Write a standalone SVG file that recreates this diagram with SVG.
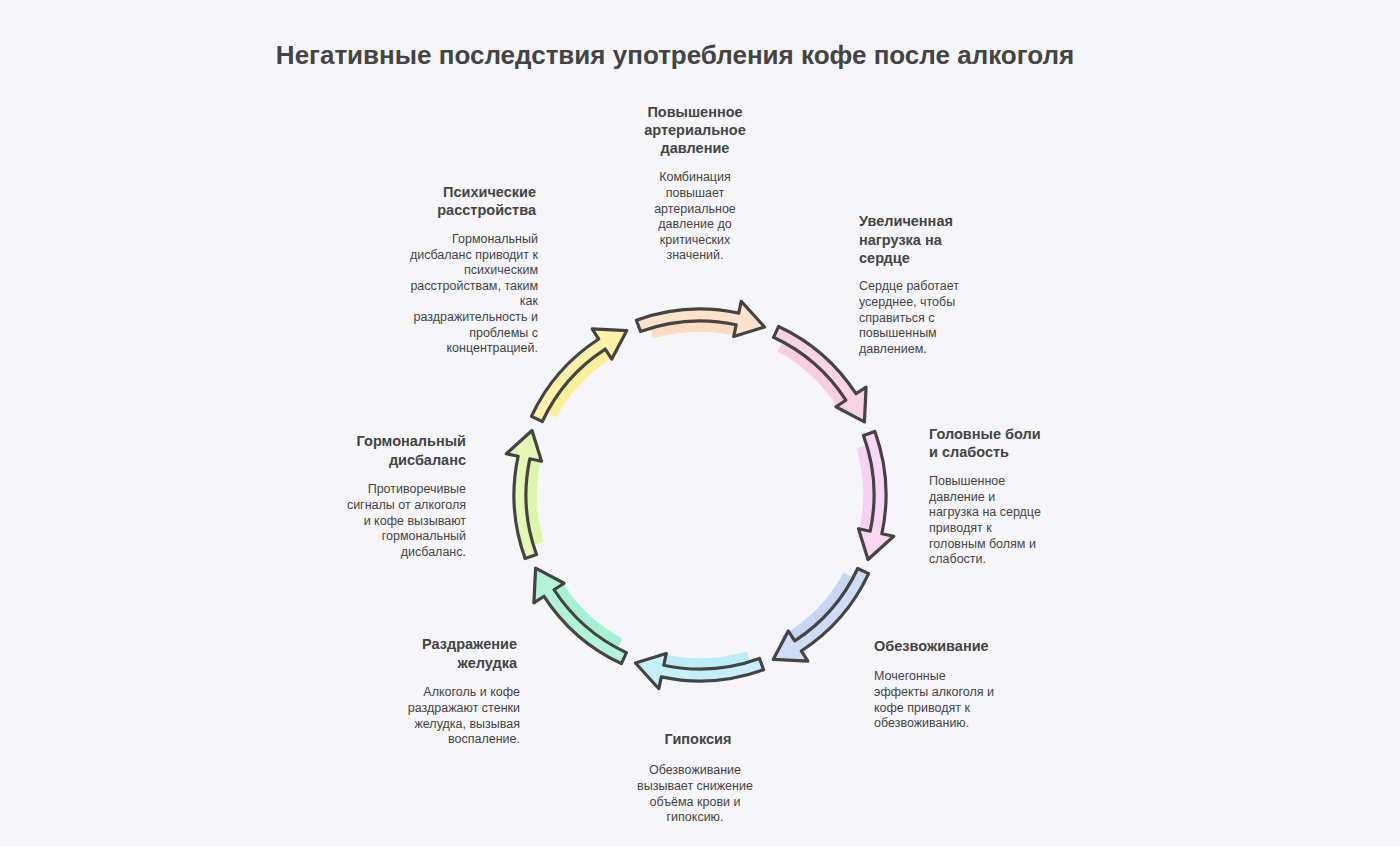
<svg xmlns="http://www.w3.org/2000/svg" width="1400" height="846" viewBox="0 0 1400 846">
<style>
text{font-family:"Liberation Sans",Arial,sans-serif;fill:#444}
.t{font-size:26px;font-weight:bold;text-anchor:middle}
.h{font-size:14.5px;font-weight:bold}
.b{font-size:12.5px}
.m{text-anchor:middle}.e{text-anchor:end}
.ar{stroke:#444;stroke-width:3.2;stroke-linejoin:round}
.bl{fill:none;stroke-width:22;stroke-linecap:butt}
</style>
<defs>
<path id="arr" d="M-63.6,-174.8 A186,186 0 0 1 38.7,-181.9 L41.2,-193.7 L64.5,-168 L33.7,-158.5 L36.2,-170.2 A174,174 0 0 0 -59.5,-163.5 Z"/>
<path id="blob" d="M-50,-167 A174,174 0 0 1 45,-168"/>
</defs>
<rect width="1400" height="846" fill="#f6f6fa"/>
<text class="t" x="675" y="64">Негативные последствия употребления кофе после алкоголя</text>
<g id="connectors" transform="translate(700,495)">
<g transform="rotate(0)"><use href="#blob" class="bl" stroke="#fcdcc0"/><use href="#arr" class="ar" fill="#fde3cc"/></g>
<g transform="rotate(45)"><use href="#blob" class="bl" stroke="#fbcde2"/><use href="#arr" class="ar" fill="#fbd3e6"/></g>
<g transform="rotate(90)"><use href="#blob" class="bl" stroke="#f8d0f2"/><use href="#arr" class="ar" fill="#f9d6f3"/></g>
<g transform="rotate(135)"><use href="#blob" class="bl" stroke="#c6d7f6"/><use href="#arr" class="ar" fill="#cfdcf5"/></g>
<g transform="rotate(180)"><use href="#blob" class="bl" stroke="#bcecf7"/><use href="#arr" class="ar" fill="#c6f0f8"/></g>
<g transform="rotate(225)"><use href="#blob" class="bl" stroke="#a8f0d4"/><use href="#arr" class="ar" fill="#b3f3da"/></g>
<g transform="rotate(270)"><use href="#blob" class="bl" stroke="#dcf7a8"/><use href="#arr" class="ar" fill="#e2f8b4"/></g>
<g transform="rotate(315)"><use href="#blob" class="bl" stroke="#fdf09a"/><use href="#arr" class="ar" fill="#fdf2a8"/></g>
</g>
<g id="n1"><text class="h m" x="695" y="117">Повышенное</text><text class="h m" x="695" y="135">артериальное</text><text class="h m" x="695" y="153">давление</text>
<text class="b m" x="695" y="181">Комбинация</text><text class="b m" x="695" y="197">повышает</text><text class="b m" x="695" y="213">артериальное</text><text class="b m" x="695" y="228">давление до</text><text class="b m" x="695" y="244">критических</text><text class="b m" x="695" y="259">значений.</text></g>
<g id="n2"><text class="h" x="859" y="226">Увеличенная</text><text class="h" x="859" y="245">нагрузка на</text><text class="h" x="859" y="263">сердце</text>
<text class="b" x="859" y="290">Сердце работает</text><text class="b" x="859" y="306">усерднее, чтобы</text><text class="b" x="859" y="322">справиться с</text><text class="b" x="859" y="337">повышенным</text><text class="b" x="859" y="353">давлением.</text></g>
<g id="n3"><text class="h" x="929" y="439">Головные боли</text><text class="h" x="929" y="457">и слабость</text>
<text class="b" x="929" y="485">Повышенное</text><text class="b" x="929" y="501">давление и</text><text class="b" x="929" y="516">нагрузка на сердце</text><text class="b" x="929" y="532">приводят к</text><text class="b" x="929" y="548">головным болям и</text><text class="b" x="929" y="563">слабости.</text></g>
<g id="n4"><text class="h" x="874" y="651">Обезвоживание</text>
<text class="b" x="874" y="680">Мочегонные</text><text class="b" x="874" y="696">эффекты алкоголя и</text><text class="b" x="874" y="712">кофе приводят к</text><text class="b" x="874" y="727">обезвоживанию.</text></g>
<g id="n5"><text class="h m" x="698" y="744">Гипоксия</text>
<text class="b m" x="695" y="774">Обезвоживание</text><text class="b m" x="695" y="790">вызывает снижение</text><text class="b m" x="695" y="806">объёма крови и</text><text class="b m" x="695" y="821">гипоксию.</text></g>
<g id="n6"><text class="h e" x="517" y="649">Раздражение</text><text class="h e" x="517" y="668">желудка</text>
<text class="b e" x="520" y="696">Алкоголь и кофе</text><text class="b e" x="520" y="712">раздражают стенки</text><text class="b e" x="520" y="728">желудка, вызывая</text><text class="b e" x="520" y="743">воспаление.</text></g>
<g id="n7"><text class="h e" x="466" y="446">Гормональный</text><text class="h e" x="466" y="465">дисбаланс</text>
<text class="b e" x="466" y="493">Противоречивые</text><text class="b e" x="466" y="509">сигналы от алкоголя</text><text class="b e" x="466" y="525">и кофе вызывают</text><text class="b e" x="466" y="540">гормональный</text><text class="b e" x="466" y="556">дисбаланс.</text></g>
<g id="n8"><text class="h e" x="536" y="197">Психические</text><text class="h e" x="536" y="215">расстройства</text>
<text class="b e" x="538" y="243">Гормональный</text><text class="b e" x="538" y="259">дисбаланс приводит к</text><text class="b e" x="538" y="274">психическим</text><text class="b e" x="538" y="290">расстройствам, таким</text><text class="b e" x="538" y="305">как</text><text class="b e" x="538" y="321">раздражительность и</text><text class="b e" x="538" y="337">проблемы с</text><text class="b e" x="538" y="352">концентрацией.</text></g>
</svg>
